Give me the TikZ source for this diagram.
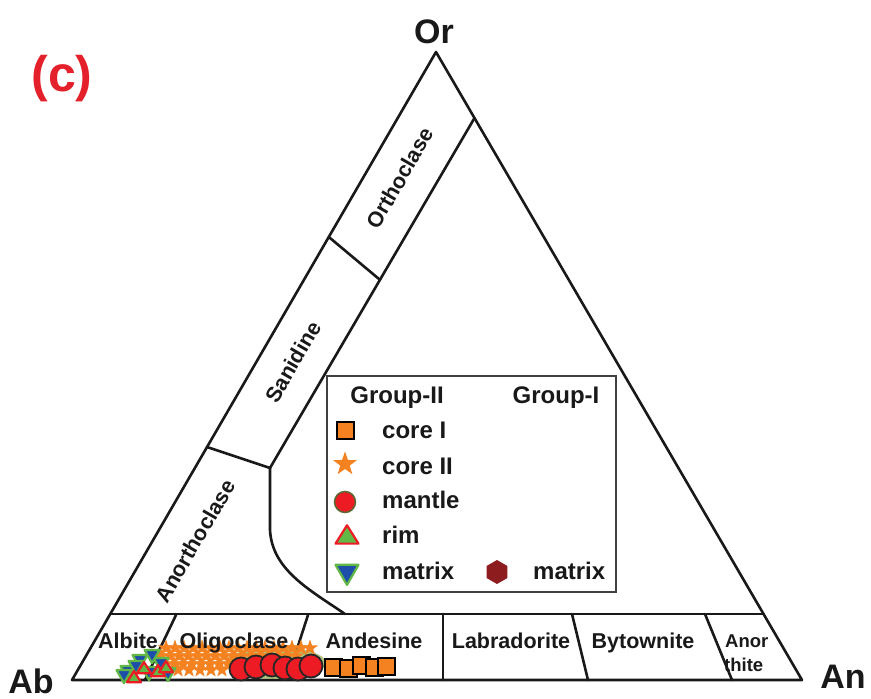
\documentclass[tikz,border=0pt]{standalone}
\usepackage{fontspec}
\setmainfont{Liberation Sans}
\definecolor{orangeC}{RGB}{245,130,32}
\definecolor{redC}{RGB}{237,28,36}
\definecolor{greenC}{RGB}{98,184,70}
\definecolor{blueC}{RGB}{28,78,170}
\definecolor{darkredC}{RGB}{140,28,30}
\definecolor{haloC}{RGB}{150,175,85}
\definecolor{labred}{RGB}{228,32,42}
\definecolor{inkC}{RGB}{25,25,25}
\newcommand\mystar[2]{\fill[orangeC, shift={(#1)}, scale=#2] (0,-1) -- (0.235,-0.324) -- (0.951,-0.309) -- (0.380,0.124) -- (0.588,0.809) -- (0,0.4) -- (-0.588,0.809) -- (-0.380,0.124) -- (-0.951,-0.309) -- (-0.235,-0.324) -- cycle;}
\newcommand\mysquare[2]{\draw[sqmark, shift={(#1)}] (-#2,-#2) rectangle (#2,#2);}
\newcommand\myup[2]{\draw[upmark, shift={(#1)}, scale=#2] (0,-0.85) -- (1,0.75) -- (-1,0.75) -- cycle;}
\newcommand\mydown[2]{\draw[downmark, shift={(#1)}, scale=#2] (-1,-0.8) -- (1,-0.8) -- (0,0.95) -- cycle;}
\newcommand\myhex[2]{\fill[darkredC, shift={(#1)}, scale=#2] (0,-1) -- (0.866,-0.5) -- (0.866,0.5) -- (0,1) -- (-0.866,0.5) -- (-0.866,-0.5) -- cycle;}
\begin{document}
\begin{tikzpicture}[x=1pt, y=-1pt,
  edge/.style={line width=2.6pt, draw=inkC, line join=round, line cap=round},
  lbl/.style={font=\fontsize{21.5}{24}\selectfont\bfseries, inner sep=0pt, text=inkC},
  smalllbl/.style={font=\fontsize{18.5}{20}\selectfont\bfseries, inner sep=0pt, text=inkC},
  leg/.style={font=\fontsize{24}{26}\selectfont\bfseries, inner sep=0pt, text=inkC},
  corner/.style={font=\fontsize{34}{36}\selectfont\bfseries, inner sep=0pt, text=inkC},
  sqmark/.style={fill=orangeC, draw=black, line width=2pt},
  upmark/.style={fill=greenC, draw=redC, line width=2.2pt, line join=round},
  downmark/.style={fill=blueC, draw=greenC, line width=2.2pt, line join=round},
  circmark/.style={fill=redC, draw=black!85, line width=1.8pt},
  legcirc/.style={fill=redC, draw=haloC!60!black, line width=1.5pt},
  legendbox/.style={draw=black!75, line width=1.5pt}
]
\useasboundingbox[fill=white] (0,0) rectangle (871,699);

% corners
\coordinate (Ab) at (72,680);
\coordinate (An) at (802,680);
\coordinate (Or) at (436,52);
\coordinate (L1) at (328.8,237);
\coordinate (L2) at (207,447);
\coordinate (L3) at (110.3,614);
\coordinate (R1) at (474.5,118);
\coordinate (R3) at (763.5,614);
\coordinate (I1) at (379,279);
\coordinate (J) at (270,468);
\coordinate (J2) at (270,530);
\coordinate (C1) at (345,614);

% outer triangle
\draw[edge] (Ab) -- (Or) -- (An) -- cycle;
% alkali feldspar boundaries
\draw[edge] (R1) -- (J);
\draw[edge] (L1) -- (I1);
\draw[edge] (L2) -- (J);
\draw[edge] (J) -- (J2) .. controls (272,570) and (310,590) .. (C1);
% plagioclase band
\draw[edge] (L3) -- (R3);
\coordinate (D1a) at (176,615); \coordinate (D1b) at (145,680);
\coordinate (D2a) at (308,615); \coordinate (D2b) at (287,680);
\coordinate (D3a) at (443,614); \coordinate (D3b) at (443,680);
\coordinate (D4a) at (572,614); \coordinate (D4b) at (588,680);
\coordinate (D5a) at (705,614); \coordinate (D5b) at (732,680);
\draw[edge] (D1a) -- (D1b);
\draw[edge] (D2a) -- (D2b);
\draw[edge] (D3a) -- (D3b);
\draw[edge] (D4a) -- (D4b);
\draw[edge] (D5a) -- (D5b);

% data points
\fill[haloC, opacity=0.75] (276,663) ellipse (50 and 16);
\foreach \a in {166,175,...,310} {\mystar{\a,648}{8.5}}
\foreach \a in {161,170,...,300} {\mystar{\a,656}{8.5}}
\foreach \a in {165,174,...,240} {\mystar{\a,664}{8.5}}
\foreach \a in {178,189,...,230} {\mystar{\a,670}{8}}
\foreach \a/\b in {128/672,140/661,149/673,161/664,168/674,152/656,136/667,124/676}
  {\mydown{\a,\b}{7.5}}
\foreach \a/\b in {144/668,158/671,134/677,166/667}
  {\myup{\a,\b}{7}}
\foreach \a/\b in {241/669,256/667,272/665,285/668,298/669,311/666}
  {\draw[circmark] (\a,\b) circle (11.5);}
\foreach \a/\b in {333/667,348/668,361/665,374/667,386/666}
  {\mysquare{\a,\b}{8.5}}

% labels
\node[corner, anchor=base] (tOr) at (434,43) {Or};
\node[corner, anchor=base] (tAb) at (31,693) {Ab};
\node[corner, anchor=base] (tAn) at (843,688) {An};
\node[font=\fontsize{50}{52}\selectfont\bfseries, text=labred, inner sep=0pt, anchor=base] (tc) at (62,91) {(c)};

\node[lbl, rotate=60] (tOrth) at (400,178) {Orthoclase};
\node[lbl, rotate=60] (tSan) at (293,362) {Sanidine};
\node[lbl, rotate=60] (tAnor) at (195,541) {Anorthoclase};

\node[lbl, anchor=base] (tAlb) at (128,648) {Albite};
\node[lbl, anchor=base] (tOli) at (234,648) {Oligoclase};
\node[lbl, anchor=base] (tAnd) at (374,648) {Andesine};
\node[lbl, anchor=base] (tLab) at (511,648) {Labradorite};
\node[lbl, anchor=base] (tByt) at (643,648) {Bytownite};
\node[smalllbl, anchor=base west] (tAn1) at (725,647) {Anor};
\node[smalllbl, anchor=base west] (tAn2) at (724,671) {thite};

% legend
\draw[legendbox] (327,376) rectangle (616,592);
\node[leg, anchor=base] (gII) at (397,403) {Group-II};
\node[leg, anchor=base] (gI) at (556,403) {Group-I};
\mysquare{345,430}{8.5}
\mystar{345,464}{12.5}
\draw[legcirc] (345,502) circle (10.5);
\myup{347,535}{11.5}
\mydown{347,574}{11.5}
\myhex{497,572}{12}
\node[leg, anchor=base west] (l1) at (382,438) {core I};
\node[leg, anchor=base west] (l2) at (382,474) {core II};
\node[leg, anchor=base west] (l3) at (382,508) {mantle};
\node[leg, anchor=base west] (l4) at (382,543) {rim};
\node[leg, anchor=base west] (l5) at (382,579) {matrix};
\node[leg, anchor=base west] (l6) at (533,579) {matrix};
\end{tikzpicture}
\end{document}
